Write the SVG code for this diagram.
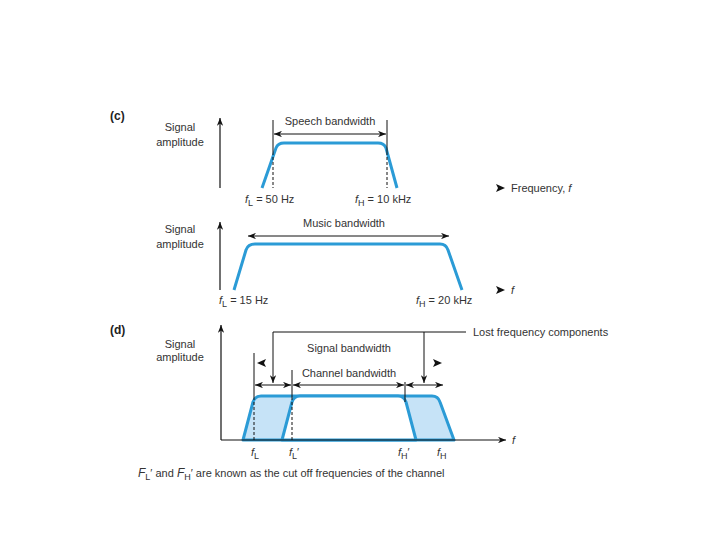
<svg xmlns="http://www.w3.org/2000/svg" width="720" height="540" viewBox="0 0 720 540">
<style>
text{font-family:"Liberation Sans","DejaVu Sans",sans-serif;font-size:11px;fill:#333}
.b{font-weight:bold;font-size:12px;fill:#222}
.c{text-anchor:middle}
.i{font-style:italic}
.ax{stroke:#111;stroke-width:1.2;fill:none}
.ln{stroke:#111;stroke-width:1;fill:none}
.ds{stroke:#111;stroke-width:1;fill:none;stroke-dasharray:3,2}
.cv{stroke:#2b9bd6;stroke-width:3;fill:none;stroke-linejoin:round}
</style>
<defs>
<marker id="ah" viewBox="0 0 10 8" refX="10" refY="4" markerWidth="8" markerHeight="6.4" orient="auto-start-reverse" markerUnits="userSpaceOnUse">
<path d="M0,0 L10,4 L0,8 L3,4 z" fill="#111"/>
</marker>
</defs>
<rect width="720" height="540" fill="#fff"/>

<g id="panel-c-speech">
<text class="b" x="110" y="120">(c)</text>
<text class="c" x="180" y="131">Signal</text>
<text class="c" x="180" y="146">amplitude</text>
<line class="ax" x1="220" y1="188" x2="220" y2="118" marker-end="url(#ah)"/>
<path class="cv" d="M262,188 L276,148 Q278,143 284,143 L378,143 Q384,143 386,148 L397,188"/>
<line class="ln" x1="273" y1="120" x2="273" y2="152"/>
<line class="ds" x1="273" y1="152" x2="273" y2="188"/>
<line class="ln" x1="387" y1="120" x2="387" y2="152"/>
<line class="ds" x1="387" y1="152" x2="387" y2="188"/>
<line class="ln" x1="274" y1="134" x2="386" y2="134" marker-start="url(#ah)" marker-end="url(#ah)"/>
<text class="c" x="330" y="125">Speech bandwidth</text>
<text x="245" y="203"><tspan class="i">f</tspan><tspan font-size="9" dy="3">L</tspan><tspan dy="-3"> = 50 Hz</tspan></text>
<text x="355" y="203"><tspan class="i">f</tspan><tspan font-size="9" dy="3">H</tspan><tspan dy="-3"> = 10 kHz</tspan></text>
<path d="M496,184 L505,188 L496,192 L498,188 z" fill="#111"/>
<text x="511" y="192">Frequency, <tspan class="i">f</tspan></text>
</g>

<g id="panel-c-music">
<text class="c" x="180" y="233">Signal</text>
<text class="c" x="180" y="248">amplitude</text>
<line class="ax" x1="220" y1="290" x2="220" y2="222" marker-end="url(#ah)"/>
<path class="cv" d="M234,290 L246,250 Q248,244 255,244 L440,244 Q446,244 448,250 L462,290"/>
<line class="ln" x1="248" y1="236" x2="449" y2="236" marker-start="url(#ah)" marker-end="url(#ah)"/>
<text class="c" x="344" y="227">Music bandwidth</text>
<text x="219" y="304"><tspan class="i">f</tspan><tspan font-size="9" dy="3">L</tspan><tspan dy="-3"> = 15 Hz</tspan></text>
<text x="416" y="304"><tspan class="i">f</tspan><tspan font-size="9" dy="3">H</tspan><tspan dy="-3"> = 20 kHz</tspan></text>
<path d="M496,286 L505,290 L496,294 L498,290 z" fill="#111"/>
<text class="i" x="511" y="294">f</text>
</g>

<g id="panel-d">
<text class="b" x="110" y="334">(d)</text>
<text class="c" x="180" y="348">Signal</text>
<text class="c" x="180" y="361">amplitude</text>
<path d="M243,440 L253,402 Q255,396 261,396 L432,396 Q438,396 440,402 L454,440 Z" fill="#c6e3f7" stroke="#2b9bd6" stroke-width="3" stroke-linejoin="round"/>
<path d="M282,440 L292,402 Q294,396 300,396 L398,396 Q404,396 406,402 L416,440 Z" fill="#fff" stroke="#2b9bd6" stroke-width="3" stroke-linejoin="round"/>
<line class="ax" x1="221" y1="440" x2="221" y2="325" marker-end="url(#ah)"/>
<line class="ax" x1="221" y1="440" x2="506" y2="440" marker-end="url(#ah)"/>
<text class="i" x="512" y="444">f</text>
<text x="251" y="456" font-size="12"><tspan class="i">f</tspan><tspan font-size="9" dy="3">L</tspan></text>
<text x="289" y="456" font-size="12"><tspan class="i">f</tspan><tspan font-size="9" dy="3">L</tspan><tspan dy="-3">′</tspan></text>
<text x="398" y="456" font-size="12"><tspan class="i">f</tspan><tspan font-size="9" dy="3">H</tspan><tspan dy="-3">′</tspan></text>
<text x="437" y="456" font-size="12"><tspan class="i">f</tspan><tspan font-size="9" dy="3">H</tspan></text>
<text x="138" y="477"><tspan class="i" font-size="12">F</tspan><tspan font-size="9" dy="3">L</tspan><tspan dy="-3">′ and </tspan><tspan class="i" font-size="12">F</tspan><tspan font-size="9" dy="3">H</tspan><tspan dy="-3">′ are known as the cut off frequencies of the channel</tspan></text>
<text class="c" x="349" y="352">Signal bandwidth</text>
<text class="c" x="349" y="377">Channel bandwidth</text>
<text x="473" y="336">Lost frequency components</text>
</g>

<g id="connectors">
<line class="ln" x1="254" y1="353" x2="254" y2="397"/>
<line class="ds" x1="254" y1="397" x2="254" y2="440"/>
<line class="ln" x1="292" y1="370" x2="292" y2="397"/>
<line class="ds" x1="292" y1="397" x2="292" y2="440"/>
<line class="ln" x1="405" y1="382" x2="405" y2="402"/>
<polyline class="ln" points="466,332 273,332 273,383" marker-end="url(#ah)"/>
<line class="ln" x1="424" y1="332" x2="424" y2="383" marker-end="url(#ah)"/>
<path d="M257,363 L266,359 L264,363 L266,367 z" fill="#111"/>
<path d="M442,363 L433,359 L435,363 L433,367 z" fill="#111"/>
<line class="ln" x1="255" y1="385" x2="291" y2="385" marker-start="url(#ah)" marker-end="url(#ah)"/>
<line class="ln" x1="293" y1="385" x2="404" y2="385" marker-start="url(#ah)" marker-end="url(#ah)"/>
<line class="ln" x1="406" y1="385" x2="443" y2="385" marker-start="url(#ah)" marker-end="url(#ah)"/>
</g>
</svg>
